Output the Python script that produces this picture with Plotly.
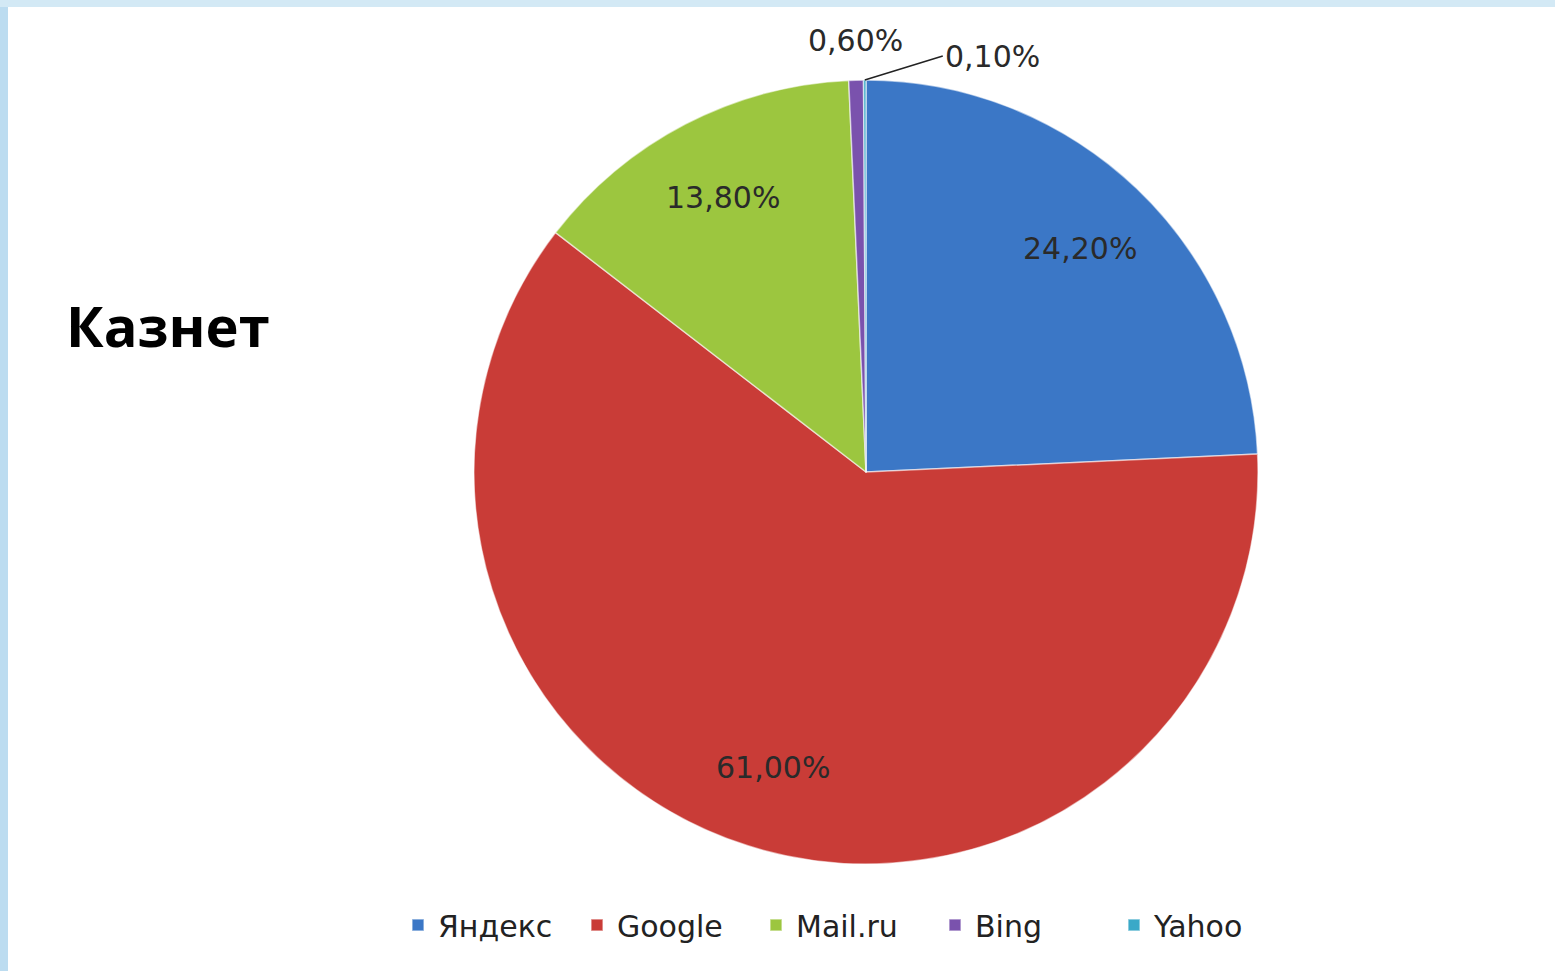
import math
import plotly.graph_objects as go

categories = ["Яндекс", "Google", "Mail.ru", "Bing", "Yahoo"]
shares = [24.2, 61.0, 13.8, 0.6, 0.1]
colors = ["#3b77c6", "#c93c37", "#9cc63f", "#7a52ad", "#3aa9c8"]
title_text = "Казнет"

labels_txt = [f"{v:.2f}%".replace(".", ",") for v in shares]

W, H = 1555, 971
cx, cy, r = 866, 472, 392
LABEL_FONT = "DejaVu Sans, sans-serif"

fig = go.Figure()
fig.add_trace(go.Pie(
    labels=categories,
    values=shares,
    text=labels_txt,
    textinfo="none",
    sort=False,
    direction="clockwise",
    rotation=0,
    marker=dict(colors=colors, line=dict(color="rgba(255,255,255,0.55)", width=1.5)),
    domain=dict(x=[(cx - r) / W, (cx + r) / W], y=[(H - cy - r) / H, (H - cy + r) / H]),
    automargin=False,
    hoverinfo="label+text",
))

# data labels placed at slice mid-angles (derived from the values)
total = sum(shares)
annotations = []
cum = 0.0
for i, (v, t) in enumerate(zip(shares, labels_txt)):
    mid = (cum + v / 2) / total * 2 * math.pi
    cum += v
    font = dict(family=LABEL_FONT, size=30, color="#2a2a2a")
    if v >= 5:
        rf = 0.79
        px = cx + rf * r * math.sin(mid)
        py = cy - rf * r * math.cos(mid)
        annotations.append(dict(text=t, xref="paper", yref="paper", x=px / W, y=1 - py / H,
                                xanchor="center", yanchor="middle", showarrow=False, font=font))
    elif i == 3:
        rf = 1.10
        px = cx + rf * r * math.sin(mid)
        py = cy - rf * r * math.cos(mid)
        annotations.append(dict(text=t, xref="paper", yref="paper", x=px / W, y=1 - py / H,
                                xanchor="center", yanchor="middle", showarrow=False, font=font))
    else:
        px = cx + 1.0 * r * math.sin(mid)
        py = cy - 1.0 * r * math.cos(mid)
        annotations.append(dict(text=t, xref="paper", yref="paper", x=px / W, y=1 - py / H,
                                showarrow=True, arrowhead=0, arrowwidth=1.5, arrowcolor="#222222",
                                ax=78, ay=-24, xanchor="left", yanchor="middle", font=font))

annotations.append(dict(text=f"<b>{title_text}</b>", xref="paper", yref="paper",
                        x=64 / W, y=1 - 325 / H, xanchor="left", yanchor="middle",
                        showarrow=False,
                        font=dict(family="Open Sans, sans-serif", size=56, color="#000000")))

fig.update_layout(
    width=W, height=H,
    margin=dict(l=0, r=0, t=0, b=0),
    paper_bgcolor="white",
    plot_bgcolor="white",
    showlegend=True,
    legend=dict(
        orientation="h",
        x=398 / W, xanchor="left",
        y=1 - 925 / H, yanchor="middle",
        font=dict(family=LABEL_FONT, size=30, color="#222222"),
        entrywidth=134,
        entrywidthmode="pixels",
        traceorder="normal",
        bgcolor="rgba(0,0,0,0)",
    ),
    shapes=[
        dict(type="rect", xref="paper", yref="paper", x0=0, x1=8 / W, y0=0, y1=1,
             fillcolor="#bcdcf0", line=dict(width=0), layer="above"),
        dict(type="rect", xref="paper", yref="paper", x0=0, x1=1, y0=1 - 7 / H, y1=1,
             fillcolor="#d3e9f5", line=dict(width=0), layer="above"),
    ],
    annotations=annotations,
)

fig.write_html("out.html")
